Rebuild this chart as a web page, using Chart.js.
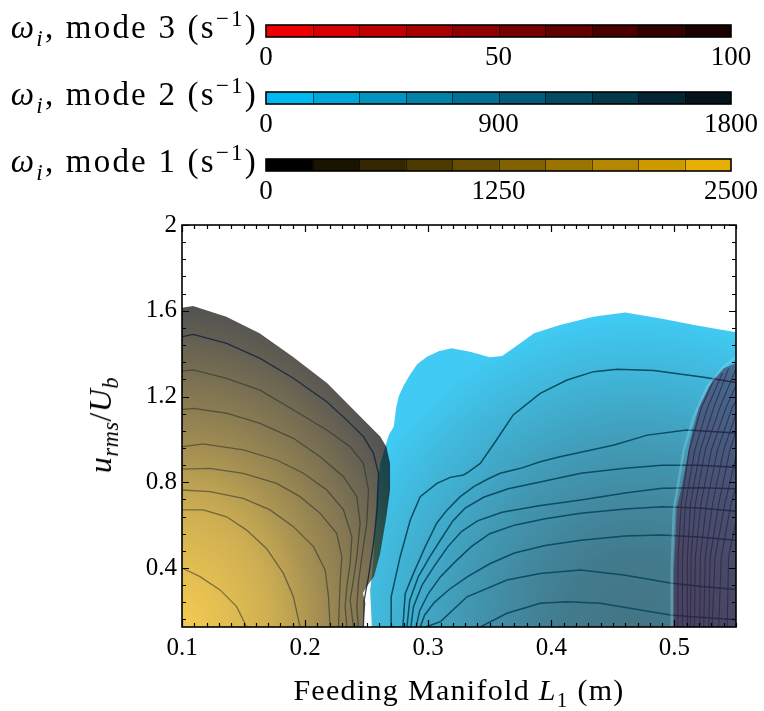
<!DOCTYPE html>
<html>
<head>
<meta charset="utf-8">
<script src="https://cdn.jsdelivr.net/npm/chart.js@4.4.1/dist/chart.umd.min.js"></script>
<style>
  html, body { margin: 0; padding: 0; background: #fff; }
  #page { position: relative; width: 764px; height: 711px; overflow: hidden; font-family: 'Liberation Serif', serif; color: #000; }
  canvas { position: absolute; left: 0; }
  .txt { position: absolute; white-space: nowrap; z-index: 2; }
  .txt sub, .txt sup { font-size: 0.7em; line-height: 0; }
  .cb-title { right: 506px; font-size: 33px; line-height: 33px; letter-spacing: 2.2px; }
  #xtitle { left: 459px; top: 675px; transform: translateX(-50%); font-size: 30px; line-height: 30px; letter-spacing: 1.3px; }
  #ytitle { left: 100px; top: 425px; transform: translate(-50%, -50%) rotate(-90deg); font-size: 32px; line-height: 32px; letter-spacing: 0.5px; }
</style>
</head>
<body>
<div id="page">
  <canvas id="main" width="764" height="711" style="top:0"></canvas>
  <canvas id="cb3" width="764" height="54" style="top:23px"></canvas>
  <canvas id="cb2" width="764" height="54" style="top:90px"></canvas>
  <canvas id="cb1" width="764" height="54" style="top:157px"></canvas>
  <div class="txt cb-title" style="top:11px"><i>ω</i><sub><i>i</i></sub>, mode 3 (s<sup>−1</sup>)</div>
  <div class="txt cb-title" style="top:78px"><i>ω</i><sub><i>i</i></sub>, mode 2 (s<sup>−1</sup>)</div>
  <div class="txt cb-title" style="top:145px"><i>ω</i><sub><i>i</i></sub>, mode 1 (s<sup>−1</sup>)</div>
  <div class="txt" id="ytitle"><i>u</i><sub><i>rms</i></sub>/<i>U</i><sub><i>b</i></sub></div>
  <div class="txt" id="xtitle">Feeding Manifold <i>L</i><sub>1</sub> (m)</div>
</div>
<script>
// colour bar levels (s^-1)
const mode3Levels = [0, 10, 20, 30, 40, 50, 60, 70, 80, 90, 100];
const mode2Levels = [0, 180, 360, 540, 720, 900, 1080, 1260, 1440, 1620, 1800];
const mode1Levels = [0, 250, 500, 750, 1000, 1250, 1500, 1750, 2000, 2250, 2500];
const mode3TickValues = [0, 50, 100];
const mode3TickLabels = ['0', '50', '100'];
const mode2TickValues = [0, 900, 1800];
const mode2TickLabels = ['0', '900', '1800'];
const mode1TickValues = [0, 1250, 2500];
const mode1TickLabels = ['0', '1250', '2500'];

// main axes
const xTickValues = [0.1, 0.2, 0.3, 0.4, 0.5];
const xTickLabels = ['0.1', '0.2', '0.3', '0.4', '0.5'];
const yTickValues = [0.4, 0.8, 1.2, 1.6, 2];
const yTickLabels = ['0.4', '0.8', '1.2', '1.6', '2'];

// unstable regions, [L1, urms/Ub]
const mode1Region = [[0.1,0.125],[0.1,1.614],[0.109,1.622],[0.136,1.572],[0.163,1.495],[0.19,1.386],[0.218,1.262],[0.245,1.106],[0.261,1.013],[0.266,0.966],[0.269,0.888],[0.269,0.764],[0.266,0.639],[0.261,0.469],[0.256,0.36],[0.25,0.313],[0.247,0.282],[0.249,0.236],[0.247,0.125],[0.1,0.125]];
const mode2Region = [[0.2542,0.125],[0.2528,0.298],[0.2542,0.36],[0.2555,0.453],[0.2569,0.609],[0.2583,0.764],[0.261,0.888],[0.265,0.964],[0.268,1.02],[0.272,1.059],[0.274,1.15],[0.276,1.2],[0.28,1.25],[0.285,1.3],[0.291,1.35],[0.299,1.386],[0.309,1.412],[0.319,1.425],[0.334,1.409],[0.35,1.383],[0.36,1.389],[0.369,1.425],[0.386,1.495],[0.407,1.534],[0.434,1.572],[0.46,1.592],[0.489,1.564],[0.516,1.534],[0.55,1.5],[0.55,0.125],[0.2542,0.125]];
const mode3Region = [[0.4995,0.125],[0.4995,0.375],[0.502,0.686],[0.506,0.779],[0.513,0.997],[0.52,1.152],[0.531,1.277],[0.54,1.332],[0.55,1.355],[0.55,0.125],[0.4995,0.125]];
const mode3Rim = [[0.4975,0.125],[0.4978,0.4],[0.4995,0.671],[0.5076,0.951],[0.5157,1.106],[0.5266,1.246],[0.54,1.339],[0.55,1.385]];

// iso-lines of growth rate
const mode1Contours = [
  [[0.1005,1.479],[0.1092,1.49],[0.1363,1.448],[0.1634,1.378],[0.1905,1.285],[0.2176,1.176],[0.2339,1.09],[0.2474,1.013],[0.2555,0.935],[0.2596,0.842],[0.2588,0.686],[0.2555,0.515],[0.2515,0.36],[0.248,0.251],[0.2474,0.125]],
  [[0.1005,1.32],[0.1092,1.324],[0.1363,1.285],[0.1634,1.23],[0.1905,1.137],[0.2176,1.044],[0.2366,0.966],[0.2474,0.888],[0.2515,0.764],[0.2501,0.609],[0.2461,0.453],[0.2433,0.329],[0.242,0.22],[0.2433,0.125]],
  [[0.1005,1.14],[0.1092,1.145],[0.1363,1.122],[0.1634,1.075],[0.1905,1.005],[0.2122,0.919],[0.2312,0.826],[0.242,0.733],[0.2447,0.609],[0.242,0.453],[0.2388,0.329],[0.2366,0.251],[0.2393,0.125]],
  [[0.1005,0.966],[0.1173,0.979],[0.1498,0.951],[0.1769,0.904],[0.1986,0.842],[0.2176,0.764],[0.2312,0.671],[0.238,0.546],[0.2366,0.422],[0.2339,0.313],[0.2325,0.22],[0.2339,0.125]],
  [[0.1005,0.861],[0.1227,0.865],[0.1498,0.842],[0.1769,0.795],[0.1959,0.733],[0.2122,0.655],[0.2257,0.562],[0.2298,0.453],[0.2284,0.329],[0.2271,0.125]],
  [[0.1005,0.764],[0.1227,0.756],[0.1498,0.725],[0.1715,0.671],[0.1905,0.593],[0.2068,0.5],[0.2163,0.391],[0.219,0.266],[0.2203,0.125]],
  [[0.1005,0.671],[0.1173,0.671],[0.1363,0.639],[0.1525,0.577],[0.1688,0.49],[0.1824,0.375],[0.1905,0.266],[0.1959,0.125]],
  [[0.1005,0.399],[0.1146,0.36],[0.1309,0.298],[0.1444,0.22],[0.1525,0.125]]
];
const mode2Contours = [
  [[0.2699,0.125],[0.2699,0.266],[0.2772,0.453],[0.2854,0.624],[0.2935,0.733],[0.3071,0.795],[0.3179,0.823],[0.3287,0.834],[0.3328,0.849],[0.3423,0.888],[0.3545,0.989],[0.369,1.114],[0.391,1.215],[0.4128,1.277],[0.4344,1.316],[0.4534,1.327],[0.4832,1.321],[0.5238,1.29],[0.55,1.265]],
  [[0.2794,0.125],[0.2813,0.28],[0.288,0.375],[0.2976,0.5],[0.307,0.61],[0.3152,0.67],[0.326,0.733],[0.337,0.78],[0.348,0.814],[0.3585,0.842],[0.375,0.865],[0.391,0.896],[0.407,0.919],[0.424,0.94],[0.451,0.974],[0.478,1.02],[0.51,1.044],[0.55,1.03]],
  [[0.2827,0.125],[0.285,0.25],[0.292,0.36],[0.301,0.45],[0.311,0.54],[0.32,0.62],[0.33,0.68],[0.345,0.73],[0.365,0.77],[0.39,0.8],[0.424,0.842],[0.46,0.865],[0.49,0.88],[0.52,0.88],[0.55,0.87]],
  [[0.2859,0.125],[0.288,0.22],[0.295,0.32],[0.305,0.41],[0.316,0.5],[0.327,0.57],[0.34,0.62],[0.36,0.66],[0.39,0.69],[0.424,0.717],[0.46,0.75],[0.49,0.772],[0.52,0.775],[0.55,0.77]],
  [[0.2902,0.125],[0.293,0.2],[0.3,0.28],[0.31,0.36],[0.322,0.43],[0.335,0.5],[0.35,0.56],[0.37,0.6],[0.395,0.63],[0.424,0.655],[0.46,0.675],[0.49,0.686],[0.52,0.68],[0.55,0.665]],
  [[0.2935,0.125],[0.297,0.18],[0.305,0.24],[0.317,0.3],[0.332,0.36],[0.35,0.42],[0.37,0.47],[0.395,0.505],[0.424,0.53],[0.46,0.55],[0.49,0.554],[0.52,0.545],[0.55,0.53]],
  [[0.298,0.125],[0.31,0.15],[0.3315,0.266],[0.364,0.344],[0.391,0.375],[0.4236,0.391],[0.4588,0.368],[0.4967,0.33],[0.52,0.315],[0.55,0.3]],
  [[0.3423,0.125],[0.364,0.189],[0.391,0.236],[0.4128,0.243],[0.4398,0.236],[0.4724,0.204],[0.4967,0.181],[0.52,0.17],[0.55,0.16]]
];
const mode3Contours = [
  [[0.5027,0.125],[0.503,0.45],[0.5055,0.7],[0.512,0.95],[0.522,1.15],[0.533,1.29]],
  [[0.5062,0.125],[0.5065,0.45],[0.509,0.7],[0.5165,0.95],[0.527,1.15],[0.539,1.31]],
  [[0.5103,0.125],[0.5105,0.45],[0.513,0.7],[0.521,0.95],[0.532,1.15],[0.544,1.33]],
  [[0.513,0.125],[0.5135,0.45],[0.517,0.7],[0.525,0.95],[0.537,1.15],[0.55,1.33]],
  [[0.5163,0.125],[0.517,0.45],[0.5215,0.7],[0.53,0.95],[0.542,1.15],[0.55,1.25]],
  [[0.5206,0.125],[0.521,0.45],[0.526,0.7],[0.535,0.95],[0.547,1.15],[0.55,1.18]],
  [[0.5238,0.125],[0.525,0.45],[0.531,0.7],[0.54,0.95],[0.55,1.12]],
  [[0.5279,0.125],[0.529,0.45],[0.536,0.7],[0.545,0.95],[0.55,1.04]],
  [[0.5306,0.125],[0.533,0.45],[0.541,0.7],[0.55,0.92]],
  [[0.536,0.125],[0.538,0.45],[0.546,0.7],[0.55,0.78]],
  [[0.5428,0.125],[0.544,0.45],[0.55,0.62]]
];

// ---- styling ----
const serif = "'Liberation Serif', 'Times New Roman', serif";
Chart.defaults.font.family = serif;
Chart.defaults.color = '#000';

const mode3Colours = ['#ee0000', '#d70000', '#bf0000', '#a80000', '#910000', '#790000', '#620000', '#4b0000', '#330000', '#1c0000'];
const mode2Colours = ['#00b9f0', '#01a7d8', '#0194c1', '#0282a9', '#027092', '#035d7a', '#034b63', '#04394b', '#042634', '#05141c'];
const mode1Colours = ['#000000', '#1a1300', '#342700', '#4d3a00', '#674d00', '#816100', '#9b7400', '#b48700', '#ce9a00', '#e8ae00'];

function lerpRgba(a, b, v, alpha) {
  const c = a.map((ch, i) => Math.round(ch + (b[i] - ch) * v));
  return `rgba(${c[0]},${c[1]},${c[2]},${alpha})`;
}

// elliptical shading of the filled regions: [t from centre, fraction of colour scale]
const mode1Shade = {
  centre: [0.1, 0.125], reach: [0.2, 1.5], fallback: 'rgba(180,150,60,0.68)',
  colour: v => lerpRgba([0, 0, 0], [238, 178, 0], v, 0.68),
  stops: [[0, 1], [0.2, 0.88], [0.365, 0.76], [0.45, 0.65], [0.52, 0.55], [0.6, 0.45], [0.7, 0.33], [0.8, 0.22], [0.9, 0.1], [1, 0]]
};
const mode2Shade = {
  centre: [0.47, 0.125], reach: [0.25, 1.45], fallback: 'rgba(0,150,200,0.75)',
  colour: v => lerpRgba([0, 185, 240], [5, 20, 28], v, 0.75),
  stops: [[0, 0.7], [0.25, 0.64], [0.4, 0.54], [0.55, 0.42], [0.7, 0.28], [0.85, 0.14], [1, 0]]
};

function shadedFill(spec) {
  return (context) => {
    const chart = context.chart;
    const { chartArea, scales } = chart;
    if (!chartArea) return spec.fallback;
    const off = document.createElement('canvas');
    off.width = chart.canvas.width;
    off.height = chart.canvas.height;
    const g = off.getContext('2d');
    const cx = scales.x.getPixelForValue(spec.centre[0]);
    const cy = scales.y.getPixelForValue(spec.centre[1]);
    const rx = Math.abs(scales.x.getPixelForValue(spec.centre[0] + spec.reach[0]) - cx);
    const ry = Math.abs(scales.y.getPixelForValue(spec.centre[1] + spec.reach[1]) - cy);
    g.setTransform(rx, 0, 0, ry, cx, cy);
    const grad = g.createRadialGradient(0, 0, 0, 0, 0, 1);
    spec.stops.forEach(([t, v]) => grad.addColorStop(t, spec.colour(v)));
    g.fillStyle = grad;
    g.fillRect(-cx / rx - 1, -cy / ry - 1, off.width / rx + 2, off.height / ry + 2);
    return chart.ctx.createPattern(off, 'no-repeat');
  };
}

function regionSet(points, fill, order) {
  return { data: points, fill: 'shape', backgroundColor: fill, borderColor: 'rgba(0,0,0,0)', borderWidth: 0, order };
}
function lineSet(points, colour, width, order) {
  return { data: points, fill: false, borderColor: colour, borderWidth: width, order };
}

function stepTicks(from, to, step) {
  const out = [];
  for (let i = 0; from + i * step <= to + 1e-9; i++) out.push({ value: Math.round((from + i * step) * 1000) / 1000 });
  return out;
}
function labelFor(values, labels) {
  return (value) => {
    const i = values.findIndex(m => Math.abs(m - value) < 1e-6);
    return i < 0 ? '' : labels[i];
  };
}
const isMajor = (values, v) => values.some(m => Math.abs(m - v) < 1e-6);

// inward tick marks on all four sides plus the frame
const frameTicks = {
  id: 'frameTicks',
  afterDatasetsDraw(chart) {
    const { ctx, chartArea: a, scales } = chart;
    ctx.save();
    ctx.strokeStyle = '#000';
    ctx.lineWidth = 1.2;
    ctx.beginPath();
    scales.x.ticks.forEach(t => {
      const px = Math.round(scales.x.getPixelForValue(t.value)) + 0.5;
      const len = isMajor(xTickValues, t.value) ? 7 : 4;
      ctx.moveTo(px, a.bottom); ctx.lineTo(px, a.bottom - len);
      ctx.moveTo(px, a.top); ctx.lineTo(px, a.top + len);
    });
    scales.y.ticks.forEach(t => {
      const py = Math.round(scales.y.getPixelForValue(t.value)) + 0.5;
      const len = isMajor(yTickValues, t.value) ? 7 : 4;
      ctx.moveTo(a.left, py); ctx.lineTo(a.left + len, py);
      ctx.moveTo(a.right, py); ctx.lineTo(a.right - len, py);
    });
    ctx.stroke();
    ctx.lineWidth = 1.6;
    ctx.strokeRect(a.left, a.top, a.right - a.left, a.bottom - a.top);
    ctx.restore();
  }
};

const datasets = [];
datasets.push(regionSet(mode2Region, shadedFill(mode2Shade), 90));
mode2Contours.forEach(c => datasets.push(lineSet(c, '#0b4d63', 1.5, 80)));
datasets.push(regionSet(mode1Region, shadedFill(mode1Shade), 70));
mode1Contours.forEach((c, i) => datasets.push(lineSet(c, i === 0 ? 'rgba(15,35,60,0.85)' : 'rgba(25,35,40,0.5)', 1.3, 60)));
datasets.push(regionSet(mode3Region, 'rgba(78,5,45,0.46)', 50));
mode3Contours.forEach(c => datasets.push(lineSet(c, 'rgba(40,35,65,0.7)', 1.1, 40)));
datasets.push(lineSet(mode3Rim, 'rgba(150,215,235,0.35)', 2.5, 30));

new Chart(document.getElementById('main'), {
  type: 'line',
  data: { datasets },
  options: {
    responsive: false,
    animation: false,
    events: [],
    elements: { point: { radius: 0 }, line: { tension: 0 } },
    layout: { padding: { top: 225, right: 28, bottom: 0, left: 0 } },
    plugins: { legend: { display: false }, tooltip: { enabled: false } },
    scales: {
      x: {
        type: 'linear', min: 0.1, max: 0.55,
        afterFit: s => { s.height = 84; },
        afterBuildTicks: s => { s.ticks = stepTicks(0.1, 0.55, 0.01); },
        grid: { display: false, drawTicks: false },
        border: { display: false },
        ticks: { autoSkip: false, maxRotation: 0, padding: 6, font: { size: 25 }, color: '#000', callback: labelFor(xTickValues, xTickLabels) }
      },
      y: {
        type: 'linear', min: 0.125, max: 2,
        afterFit: s => { s.width = 182; },
        afterBuildTicks: s => { s.ticks = stepTicks(0.16, 2, 0.08); },
        grid: { display: false, drawTicks: false },
        border: { display: false },
        ticks: { autoSkip: false, padding: 5, font: { size: 25 }, color: '#000', callback: labelFor(yTickValues, yTickLabels) }
      }
    }
  },
  plugins: [frameTicks]
});

// segment dividers and frame of each colour bar
const barOutline = {
  id: 'barOutline',
  afterDatasetsDraw(chart) {
    const { ctx, chartArea: a, scales } = chart;
    const levels = chart.options.plugins.barOutline.levels;
    ctx.save();
    ctx.strokeStyle = 'rgba(0,0,0,0.55)';
    ctx.lineWidth = 1;
    ctx.beginPath();
    levels.slice(1, -1).forEach(l => {
      const px = Math.round(scales.x.getPixelForValue(l)) + 0.5;
      ctx.moveTo(px, a.top); ctx.lineTo(px, a.bottom);
    });
    ctx.stroke();
    ctx.strokeStyle = '#000';
    ctx.lineWidth = 1.6;
    ctx.strokeRect(a.left, a.top, a.right - a.left, a.bottom - a.top);
    ctx.restore();
  }
};

function colourBar(id, levels, tickValues, tickLabels, colours) {
  const sets = colours.map((c, i) => ({
    data: [[levels[i], levels[i + 1]]],
    backgroundColor: c,
    borderWidth: 0,
    grouped: false,
    barPercentage: 1,
    categoryPercentage: 1
  }));
  new Chart(document.getElementById(id), {
    type: 'bar',
    data: { labels: [''], datasets: sets },
    options: {
      indexAxis: 'y',
      responsive: false,
      animation: false,
      events: [],
      layout: { padding: { top: 2, right: 33, bottom: 0, left: 266 } },
      plugins: { legend: { display: false }, tooltip: { enabled: false }, barOutline: { levels } },
      scales: {
        y: { display: false },
        x: {
          type: 'linear', min: levels[0], max: levels[levels.length - 1],
          afterFit: s => { s.height = 40; },
          afterBuildTicks: s => { s.ticks = tickValues.map(v => ({ value: v })); },
          grid: { display: false, drawTicks: false },
          border: { display: false },
          ticks: { autoSkip: false, maxRotation: 0, padding: 5, font: { size: 27 }, color: '#000', callback: labelFor(tickValues, tickLabels) }
        }
      }
    },
    plugins: [barOutline]
  });
}

colourBar('cb3', mode3Levels, mode3TickValues, mode3TickLabels, mode3Colours);
colourBar('cb2', mode2Levels, mode2TickValues, mode2TickLabels, mode2Colours);
colourBar('cb1', mode1Levels, mode1TickValues, mode1TickLabels, mode1Colours);
</script>
</body>
</html>
